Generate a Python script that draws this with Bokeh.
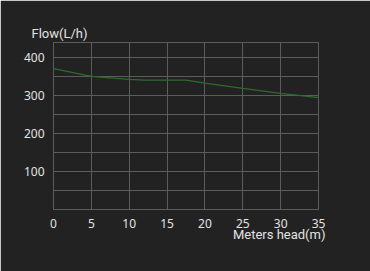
from bokeh.plotting import figure
from bokeh.models import FixedTicker, Range1d, Title
from bokeh.embed import file_html
from bokeh.resources import INLINE

head_m = [0, 5, 10, 12, 17.5, 20, 25, 30, 35]
flow_lh = [371, 351, 343, 341, 341, 333, 319, 306, 295]

x_ticks = [0, 5, 10, 15, 20, 25, 30, 35]
y_ticks = [100, 200, 300, 400]
y_minor = [0, 50, 150, 250, 350]

BG = "#222222"
GRID = "#5c5c5c"
TXT = "#e2e2e2"
FONT = "Noto Sans"

p = figure(width=370, height=271, output_backend="svg", toolbar_location=None,
           x_range=Range1d(0, 35), y_range=Range1d(0, 440),
           min_border_left=53, min_border_right=52, min_border_top=42, min_border_bottom=62)
p.background_fill_color = BG
p.border_fill_color = BG
p.outline_line_color = GRID
p.outline_line_width = 1

p.line(head_m, flow_lh, line_color="#2f6b2f", line_width=1.3)

p.xaxis.ticker = FixedTicker(ticks=x_ticks)
p.yaxis.ticker = FixedTicker(ticks=y_ticks, minor_ticks=y_minor)
for ax in (p.xaxis, p.yaxis):
    ax.axis_line_color = None
    ax.major_tick_line_color = None
    ax.minor_tick_line_color = None
    ax.major_label_text_color = TXT
    ax.major_label_text_font = FONT
    ax.major_label_text_font_size = "12px"
p.xaxis.major_label_standoff = 3
p.yaxis.major_label_standoff = 3

p.xgrid.grid_line_color = GRID
p.ygrid.grid_line_color = GRID
p.ygrid.minor_grid_line_color = GRID

p.add_layout(Title(text="Flow(L/h)", align="left", offset=-22, text_color=TXT,
                   text_font="Roboto", text_font_size="13px", text_font_style="normal",
                   standoff=4), "above")
p.add_layout(Title(text="Meters head(m)", align="right", offset=-7, text_color=TXT,
                   text_font="Roboto", text_font_size="13px", text_font_style="normal",
                   standoff=-11), "below")

open("out.html", "w").write(file_html(p, INLINE))
